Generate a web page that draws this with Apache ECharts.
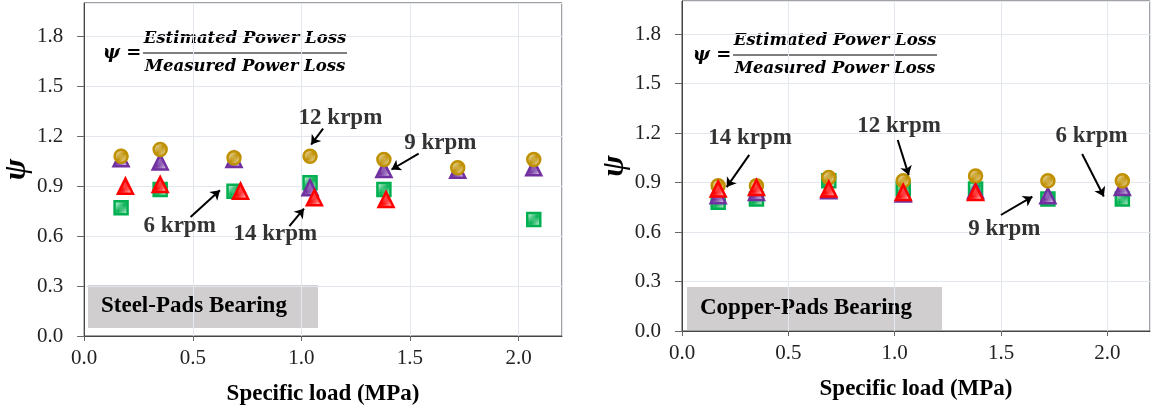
<!DOCTYPE html>
<html>
<head>
<meta charset="utf-8">
<script src="https://cdn.jsdelivr.net/npm/echarts@6/dist/echarts.min.js"></script>
<style>
  html, body { margin: 0; padding: 0; background: #fff; }
  #chart { width: 1151px; height: 411px; }
</style>
</head>
<body>
<div id="chart"></div>
<script>
// Specific load positions (MPa)
const loadX    = [0.17, 0.35, 0.69, 1.04, 1.38, 1.72, 2.07];

// Steel-pads bearing, psi per speed
const steel12  = [1.08, 1.12, 1.07, 1.08, 1.06, 1.01, 1.06];
const steel9   = [1.065, 1.045, 1.06, 0.89, 1.00, 0.995, 1.01];
const steel14X = [0.19, 0.35, 0.72, 1.06, 1.39];
const steel14  = [0.90, 0.91, 0.87, 0.83, 0.82];
const steel6X  = [0.17, 0.35, 0.69, 1.04, 1.38, 2.07];
const steel6   = [0.77, 0.88, 0.87, 0.92, 0.88, 0.70];

// Copper-pads bearing
const copper12 = [0.88, 0.88, 0.93, 0.91, 0.94, 0.91, 0.91];
const copper9  = [0.82, 0.84, 0.85, 0.83, 0.85, 0.82, 0.87];
const copper14X = [0.17, 0.35, 0.69, 1.04, 1.38];
const copper14 = [0.86, 0.87, 0.86, 0.84, 0.84];
const copper6  = [0.78, 0.80, 0.91, 0.86, 0.86, 0.80, 0.80];

// annotation text [x, y, label] and arrows [x1, y1, x2, y2] in data units
const steelNotes = [[1.18, 1.31, '12 krpm'], [1.64, 1.16, '9 krpm'], [0.44, 0.66, '6 krpm'], [0.88, 0.615, '14 krpm']];
const steelArrows = [[1.10, 1.245, 1.045, 1.15], [1.54, 1.095, 1.415, 1.0], [0.49, 0.715, 0.625, 0.875], [0.945, 0.66, 1.012, 0.765]];
const copperNotes = [[0.32, 1.17, '14 krpm'], [1.02, 1.24, '12 krpm'], [1.925, 1.18, '6 krpm'], [1.515, 0.62, '9 krpm']];
const copperArrows = [[0.316, 1.067, 0.21, 0.872], [1.014, 1.158, 1.066, 0.945], [1.881, 1.073, 1.983, 0.815], [1.499, 0.703, 1.647, 0.814]];

const GOLD = '#BF9000', PURPLE = '#7030A0', RED = '#FF0000', GREEN = '#00B050';
const SERIF = '"Liberation Serif", "Times New Roman", serif';

const zip = (xs, ys) => ys.map((y, i) => [xs[i], y]);

// small diagonal hatch tile used as marker fill
function hatch(color) {
    const s = 6;
    const c = document.createElement('canvas');
    c.width = c.height = s;
    const ctx = c.getContext('2d');
    ctx.fillStyle = '#fff';
    ctx.fillRect(0, 0, s, s);
    ctx.strokeStyle = color;
    ctx.lineWidth = 1.5;
    ctx.beginPath();
    ctx.moveTo(-1, s + 1); ctx.lineTo(s + 1, -1);
    ctx.moveTo(-1, 1); ctx.lineTo(1, -1);
    ctx.moveTo(s - 1, s + 1); ctx.lineTo(s + 1, s - 1);
    ctx.stroke();
    return { image: c, repeat: 'repeat' };
}

function markers(name, gi, xs, ys, symbol, color, z) {
    return {
        name, type: 'scatter', xAxisIndex: gi, yAxisIndex: gi,
        data: zip(xs, ys), symbol, symbolSize: symbol === 'triangle' ? 15 : 13, z,
        itemStyle: { color: hatch(color), borderColor: color, borderWidth: 2.5, opacity: 1 },
        silent: true
    };
}

function notes(gi, list) {
    return {
        type: 'scatter', xAxisIndex: gi, yAxisIndex: gi, symbolSize: 1, z: 10, silent: true,
        itemStyle: { color: 'transparent' },
        data: list.map(n => ({ value: [n[0], n[1]], name: n[2] })),
        label: { show: true, position: 'inside', formatter: '{b}', color: '#000', textBorderWidth: 0,
                 fontFamily: SERIF, fontWeight: 'bold', fontSize: 23 }
    };
}

function arrows(gi, list) {
    return {
        type: 'lines', coordinateSystem: 'cartesian2d', xAxisIndex: gi, yAxisIndex: gi,
        symbol: ['none', 'arrow'], symbolSize: 9, z: 10, silent: true,
        lineStyle: { color: '#000', width: 2, opacity: 1 },
        data: list.map(a => ({ coords: [[a[0], a[1]], [a[2], a[3]]] }))
    };
}

function xAxis(gi) {
    return {
        type: 'value', gridIndex: gi, min: 0, max: 2.2, interval: 0.5,
        name: 'Specific load (MPa)', nameLocation: 'middle', nameGap: 47,
        nameTextStyle: { fontFamily: SERIF, fontWeight: 'bold', fontSize: 23, color: '#000' },
        axisLine: { lineStyle: { color: '#444' } },
        axisTick: { show: true, length: 5, lineStyle: { color: '#666' } },
        axisLabel: { fontFamily: SERIF, fontSize: 21, color: '#222', margin: 12, showMaxLabel: false,
                     formatter: v => v.toFixed(1) },
        splitLine: { show: true, lineStyle: { color: '#E3E7EE' } }
    };
}

function yAxis(gi) {
    return {
        type: 'value', gridIndex: gi, min: 0, max: 2.0, interval: 0.3,
        name: 'ψ', nameLocation: 'middle', nameRotate: 90, nameGap: 46,
        nameTextStyle: { fontFamily: SERIF, fontWeight: 'bold', fontStyle: 'italic', fontSize: 32, color: '#000' },
        axisLine: { show: true, lineStyle: { color: '#444' } },
        axisTick: { show: true, length: 7, lineStyle: { color: '#666' } },
        axisLabel: { fontFamily: SERIF, fontSize: 21, color: '#222', margin: 21, showMaxLabel: false,
                     formatter: v => v.toFixed(1) },
        splitLine: { show: true, lineStyle: { color: '#E3E7EE' } }
    };
}

function formula(cx, yLine, leftX) {
    const f = { fontFamily: '"DejaVu Serif", serif', fontWeight: 'bold', fontStyle: 'italic', fontSize: 16.5, fill: '#000' };
    return [
        { type: 'text', x: leftX, y: yLine, style: Object.assign({}, f, { text: 'ψ =', fontSize: 18, verticalAlign: 'middle' }) },
        { type: 'text', x: cx, y: yLine - 14, style: Object.assign({}, f, { text: 'Estimated Power Loss', align: 'center', verticalAlign: 'middle' }) },
        { type: 'line', shape: { x1: cx - 102, y1: yLine, x2: cx + 102, y2: yLine }, style: { stroke: '#000', lineWidth: 1 } },
        { type: 'text', x: cx, y: yLine + 14, style: Object.assign({}, f, { text: 'Measured Power Loss', align: 'center', verticalAlign: 'middle' }) }
    ];
}

function tag(x, y, w, h, text) {
    return {
        type: 'group', x, y, children: [
            { type: 'rect', shape: { x: 0, y: 0, width: w, height: h }, style: { fill: '#D0CECE' } },
            { type: 'text', x: 13, y: h / 2, style: { text, align: 'left', verticalAlign: 'middle',
              fontFamily: SERIF, fontWeight: 'bold', fontSize: 23, fill: '#000' } }
        ]
    };
}

const chart = echarts.init(document.getElementById('chart'), null, { renderer: 'canvas' });

chart.setOption({
    animation: false,
    grid: [
        { left: 79, top: 3, width: 483, height: 333, show: true, borderColor: '#444', borderWidth: 1 },
        { left: 682, top: 1, width: 468, height: 330, show: true, borderColor: '#444', borderWidth: 1 }
    ],
    xAxis: [xAxis(0), xAxis(1)],
    yAxis: [yAxis(0), yAxis(1)],
    series: [
        markers('6 krpm', 0, steel6X, steel6, 'rect', GREEN, 2),
        markers('9 krpm', 0, loadX, steel9, 'triangle', PURPLE, 3),
        markers('12 krpm', 0, loadX, steel12, 'circle', GOLD, 4),
        markers('14 krpm', 0, steel14X, steel14, 'triangle', RED, 5),
        markers('6 krpm', 1, loadX, copper6, 'rect', GREEN, 2),
        markers('9 krpm', 1, loadX, copper9, 'triangle', PURPLE, 3),
        markers('12 krpm', 1, loadX, copper12, 'circle', GOLD, 4),
        markers('14 krpm', 1, copper14X, copper14, 'triangle', RED, 5),
        notes(0, steelNotes), arrows(0, steelArrows),
        notes(1, copperNotes), arrows(1, copperArrows)
    ],
    graphic: [
        ...formula(245, 53, 103),
        ...formula(835, 55, 693),
        tag(88, 285, 230, 43, 'Steel-Pads Bearing'),
        tag(687, 287, 255, 43, 'Copper-Pads Bearing')
    ]
});
</script>
</body>
</html>
